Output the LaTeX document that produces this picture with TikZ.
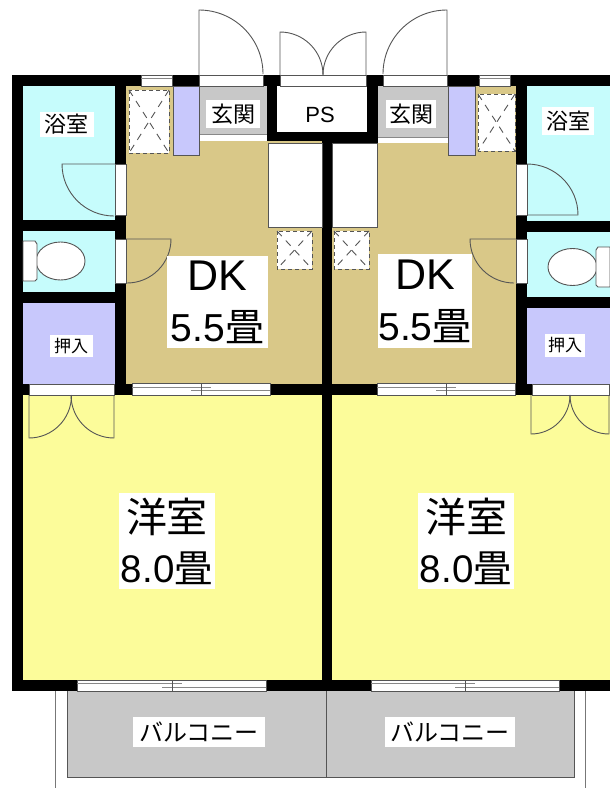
\documentclass[tikz,border=0pt]{standalone}
\usepackage{fontspec}
\setmainfont{Liberation Sans}
\newfontfamily\jpfont{Noto Sans CJK JP}
\definecolor{wallblack}{HTML}{000000}
\definecolor{bathblue}{HTML}{C6FCFC}
\definecolor{dktan}{HTML}{D9C888}
\definecolor{closetblue}{HTML}{C8C8FC}
\definecolor{roomyellow}{HTML}{FCFC9A}
\definecolor{floorgray}{HTML}{C8C8C8}
\definecolor{leafgray}{HTML}{555555}
\tikzset{
  leaf/.style={draw=leafgray,line width=0.9pt},
  glass/.style={draw=leafgray,fill=white,line width=0.8pt},
  sash/.style={draw=leafgray!70,line width=0.8pt},
  sink/.style={draw=leafgray,fill=white,dash pattern=on 4pt off 3pt,line width=1pt},
  cross/.style={draw=leafgray,dash pattern=on 7pt off 6pt,line width=0.9pt},
  label/.style={fill=white,inner sep=0pt,text=black,align=center},
}
% x0, x1, mullion, y0, y1
\newcommand{\slider}[5]{
  \draw[glass] (#1,#4) rectangle (#2,#5);
  \draw[sash] (#1,{#4+(#5-#4)*0.35}) -- ({#3+10},{#4+(#5-#4)*0.35});
  \draw[sash] ({#3-10},{#4+(#5-#4)*0.65}) -- (#2,{#4+(#5-#4)*0.65});
  \draw[leaf,line width=0.7pt] (#3,#4) -- (#3,#5);
}
\begin{document}
\begin{tikzpicture}[x=1pt,y=-1pt]
  \useasboundingbox (0,0) rectangle (610,788);

  % balcony
  \draw[leaf,draw=leafgray!80] (55.5,691) -- (55.5,788);
  \draw[leaf,draw=leafgray!80] (585,691) -- (585,788);
  \fill[floorgray] (67,691) rectangle (574,777);
  \draw[leaf] (67,691) -- (67,777) -- (574,777) -- (574,691);
  \draw[leaf] (326,691) -- (326,777);

  % wall block, the rooms are cut out of it
  \fill[wallblack] (12,75) rectangle (610,691);

  % floors
  \fill[bathblue] (23,86) rectangle (115,220);
  \fill[bathblue] (23,231) rectangle (115,292);
  \fill[closetblue] (23,303) rectangle (115,384);
  \fill[bathblue] (527,86) rectangle (610,221);
  \fill[bathblue] (527,232) rectangle (610,297);
  \fill[closetblue] (527,308) rectangle (610,384);
  \fill[roomyellow] (23,395) rectangle (322,680);
  \fill[roomyellow] (332,395) rectangle (610,680);
  \fill[dktan] (126,86) rectangle (199,141);
  \fill[dktan] (126,141) rectangle (322,384);
  \fill[dktan] (448,86) rectangle (516,143);
  \fill[dktan] (332,143) rectangle (516,384);
  \fill[white] (277,86) rectangle (367,132);
  \fill[floorgray] (199,86) rectangle (267,134);
  \fill[floorgray] (378,86) rectangle (448,137);
  \fill[white] (199,134.5) rectangle (267,141);
  \fill[white] (378,137.5) rectangle (448,143);
  \draw[leaf,draw=leafgray!70] (199,134.5) -- (267,134.5);
  \draw[leaf,draw=leafgray!70] (378,137.5) -- (448,137.5);
  \draw[glass] (268,143) rectangle (322,227);
  \draw[glass] (332,143) rectangle (377,227);
  \draw[leaf,fill=closetblue] (173,86) rectangle (199,155);
  \draw[leaf,fill=closetblue] (448,86) rectangle (475,155);

  % sinks
  \draw[sink] (129,90) rectangle (169,153);
  \draw[cross] (129,90) -- (169,153);
  \draw[cross] (169,90) -- (129,153);
  \draw[sink] (478,94) rectangle (515,151);
  \draw[cross] (478,94) -- (515,151);
  \draw[cross] (515,94) -- (478,151);
  \draw[sink] (277,231) rectangle (312,269);
  \draw[cross] (277,231) -- (312,269);
  \draw[cross] (312,231) -- (277,269);
  \draw[sink] (334,231) rectangle (369,269);
  \draw[cross] (334,231) -- (369,269);
  \draw[cross] (369,231) -- (334,269);

  % toilets
  \draw[leaf,fill=white] (60.5,261) ellipse (24.5 and 19);
  \draw[leaf,fill=white] (23,241) -- (35,241) -- (37,244) -- (37,279) -- (35,281) -- (23,281) -- cycle;
  \draw[leaf,fill=white] (572.5,267) ellipse (24.5 and 18.5);
  \draw[leaf,fill=white] (610,247) -- (598,247) -- (596,250) -- (596,285) -- (598,287) -- (610,287) -- cycle;

  % door openings
  \draw[glass] (199,75) rectangle (263,86);
  \draw[glass] (280,75) rectangle (366,86);
  \draw[glass] (383,75) rectangle (447,86);
  \draw[glass] (115,164) rectangle (126,215);
  \draw[glass] (516,164) rectangle (527,215);
  \draw[glass] (115,239) rectangle (126,283);
  \draw[glass] (516,239) rectangle (527,283);
  \draw[glass] (29,384) rectangle (114,395);
  \draw[glass] (532,384) rectangle (609,395);

  % door leaves
  \draw[leaf] (199,75) -- (199,10) arc[start angle=-90,end angle=0,radius=64];
  \draw[leaf] (447,75) -- (447,10) arc[start angle=-90,end angle=-180,radius=64];
  \draw[leaf] (280,75) -- (280,32) arc[start angle=-90,end angle=0,radius=43];
  \draw[leaf] (366,75) -- (366,32) arc[start angle=-90,end angle=-180,radius=43];
  \draw[leaf] (115,164) -- (62,164) arc[start angle=180,end angle=90,radius=52];
  \draw[leaf] (527,215) -- (578,215) arc[start angle=0,end angle=-90,radius=51];
  \draw[leaf] (126,239) -- (171,239) arc[start angle=0,end angle=90,radius=44];
  \draw[leaf] (516,239) -- (470,239) arc[start angle=180,end angle=90,radius=44];
  \draw[leaf] (29,395) -- (29,438) arc[start angle=90,end angle=0,radius=42.5];
  \draw[leaf] (114,395) -- (114,438) arc[start angle=90,end angle=180,radius=43];
  \draw[leaf] (531,395) -- (531,434) arc[start angle=90,end angle=0,radius=39];
  \draw[leaf] (609,395) -- (609,434) arc[start angle=90,end angle=180,radius=39];

  % windows
  \draw[glass] (141,75) rectangle (172,86);
  \draw[sash] (141,78.5) -- (172,78.5);
  \draw[glass] (479,75) rectangle (510,86);
  \draw[sash] (479,78.5) -- (510,78.5);
  \slider{132}{270}{201}{383}{395}
  \slider{377}{515}{446}{383}{395}
  \slider{77}{266}{172}{680}{691}
  \slider{371}{559}{465}{680}{691}

  % room names
  \node[label,minimum width=54,minimum height=25,font=\jpfont\fontsize{22}{22}\selectfont] (bathL) at (67,124.5) {浴室};
  \node[label,minimum width=52,minimum height=28,font=\jpfont\fontsize{22}{22}\selectfont] (bathR) at (568,121) {浴室};
  \node[label,minimum width=54,minimum height=28,font=\jpfont\fontsize{22}{22}\selectfont] (hallL) at (233,114) {玄関};
  \node[label,minimum width=50,minimum height=28,font=\jpfont\fontsize{22}{22}\selectfont] (hallR) at (411,114) {玄関};
  \node[inner sep=0pt,font=\fontsize{22}{22}\selectfont] (ps) at (320,114.5) {PS};
  \node[label,minimum width=43,minimum height=22,font=\jpfont\fontsize{17}{17}\selectfont] (closetL) at (71,346) {押入};
  \node[label,minimum width=40,minimum height=23,font=\jpfont\fontsize{17}{17}\selectfont] (closetR) at (565,345.5) {押入};
  \node[label,minimum width=101,minimum height=92,font=\fontsize{39}{51}\selectfont] (dkL) at (217.5,302) {\fontsize{43}{51}\selectfont DK\\5.5{\jpfont 畳}};
  \node[label,minimum width=94,minimum height=94,font=\fontsize{39}{51}\selectfont] (dkR) at (425,301) {\fontsize{43}{51}\selectfont DK\\5.5{\jpfont 畳}};
  \node[label,minimum width=96,minimum height=96,font=\fontsize{38.5}{50}\selectfont] (roomL) at (167,541) {{\jpfont\fontsize{41}{50}\selectfont 洋室}\\8.0{\jpfont 畳}};
  \node[label,minimum width=96,minimum height=96,font=\fontsize{38.5}{50}\selectfont] (roomR) at (466,541) {{\jpfont\fontsize{41}{50}\selectfont 洋室}\\8.0{\jpfont 畳}};
  \node[label,minimum width=132,minimum height=30,font=\jpfont\fontsize{24}{24}\selectfont] (balconyL) at (199,732) {バルコニー};
  \node[label,minimum width=130,minimum height=30,font=\jpfont\fontsize{24}{24}\selectfont] (balconyR) at (450,732) {バルコニー};
\end{tikzpicture}
\end{document}
